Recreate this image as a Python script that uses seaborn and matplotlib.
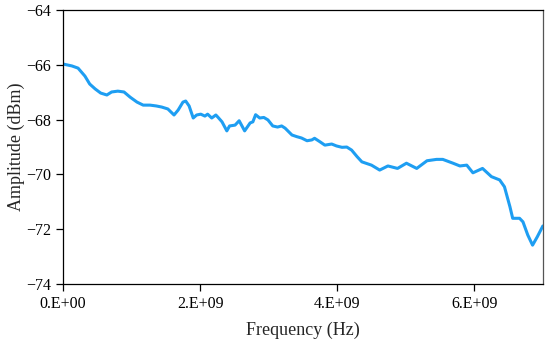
import matplotlib
matplotlib.use("Agg")
import matplotlib.pyplot as plt
import seaborn as sns
import pandas as pd

# частота в единицах 1e9 Гц
freq_ghz = [
    0.00, 0.13, 0.22, 0.32, 0.39, 0.47, 0.55, 0.64, 0.71, 0.80, 0.89, 0.98,
    1.08, 1.17, 1.27, 1.36, 1.44, 1.53, 1.62, 1.68, 1.75, 1.79, 1.84, 1.90,
    1.95, 2.01, 2.07, 2.11, 2.17, 2.23, 2.26, 2.32, 2.39, 2.43, 2.51, 2.57,
    2.65, 2.73, 2.77, 2.81, 2.87, 2.93, 2.99, 3.06, 3.13, 3.19, 3.24, 3.34,
    3.41, 3.48, 3.56, 3.63, 3.67, 3.75, 3.82, 3.92, 3.99, 4.07, 4.14, 4.21,
    4.29, 4.36, 4.50, 4.62, 4.74, 4.88, 5.01, 5.16, 5.31, 5.45, 5.54, 5.69,
    5.79, 5.89, 5.98, 6.12, 6.25, 6.37, 6.44, 6.52, 6.56, 6.66, 6.71, 6.78,
    6.85, 6.92, 7.00,
]
amplitude = [
    -65.97, -66.04, -66.12, -66.41, -66.70, -66.88, -67.03, -67.10, -66.99,
    -66.96, -66.99, -67.18, -67.36, -67.47, -67.47, -67.50, -67.54, -67.61,
    -67.83, -67.65, -67.36, -67.32, -67.50, -67.94, -67.83, -67.80, -67.87,
    -67.80, -67.94, -67.83, -67.91, -68.08, -68.41, -68.23, -68.20, -68.04,
    -68.41, -68.12, -68.08, -67.82, -67.94, -67.92, -68.01, -68.23, -68.27,
    -68.23, -68.31, -68.56, -68.62, -68.67, -68.77, -68.74, -68.68, -68.81,
    -68.93, -68.89, -68.96, -69.01, -69.00, -69.11, -69.35, -69.54, -69.66,
    -69.84, -69.69, -69.78, -69.59, -69.78, -69.50, -69.45, -69.45, -69.59,
    -69.69, -69.66, -69.94, -69.78, -70.08, -70.20, -70.45, -71.18, -71.60,
    -71.60, -71.73, -72.21, -72.58, -72.27, -71.88,
]

x_ticks = [0, 2e9, 4e9, 6e9]
x_tick_labels = ["0.E+00", "2.E+09", "4.E+09", "6.E+09"]
y_ticks = [-74, -72, -70, -68, -66, -64]

df = pd.DataFrame({
    "freq": [f * 1e9 for f in freq_ghz],
    "amp": amplitude,
})

sns.set_style("ticks")
plt.rcParams["font.family"] = ["Liberation Serif", "DejaVu Serif"]

fig = plt.figure(figsize=(5.5, 3.46), dpi=100)
ax = fig.add_axes([0.1145, 0.179, 0.8725, 0.792])

sns.lineplot(data=df, x="freq", y="amp", ax=ax, color="#1e9ef2", linewidth=2.2)

ax.set_xlim(0, 7e9)
ax.set_ylim(-74, -64)
ax.set_xticks(x_ticks)
ax.set_xticklabels(x_tick_labels)
ax.set_yticks(y_ticks)
ax.tick_params(direction="out", length=5, width=0.9, labelsize=11.5, colors="black")

for side in ["left", "bottom", "top"]:
    ax.spines[side].set_color("black")
    ax.spines[side].set_linewidth(0.9)
ax.spines["right"].set_color("#555555")
ax.spines["right"].set_linewidth(0.9)

ax.set_xlabel("Frequency (Hz)", fontsize=13, labelpad=7)
ax.set_ylabel("Amplitude (dBm)", fontsize=13, labelpad=1)

fig.savefig("out.png", dpi=100)
